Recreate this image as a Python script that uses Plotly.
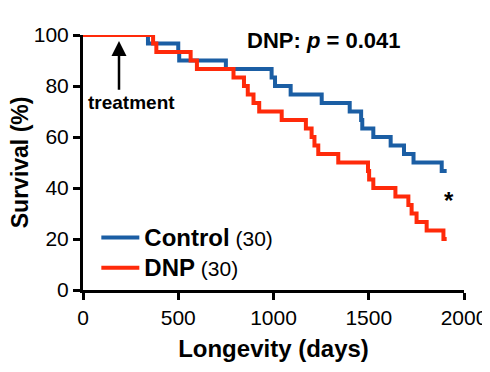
import plotly.graph_objects as go

# Kaplan-Meier survival data
control_days = [0, 341, 500, 505, 750, 990, 1008, 1090, 1253, 1400, 1460, 1466,
                1524, 1615, 1685, 1735, 1883, 1909]
control_surv = [100, 96.7, 93.3, 90, 86.7, 83.3, 80, 76.7, 73.3, 70, 66.7, 63.3,
                60, 56.7, 53.3, 50, 46.7, 46.7]

dnp_days = [0, 368, 385, 565, 598, 790, 845, 865, 895, 925, 1043, 1170, 1200,
            1215, 1235, 1340, 1496, 1502, 1524, 1640, 1708, 1725, 1751, 1804,
            1892, 1909]
dnp_surv = [100, 96.7, 93.3, 90, 86.7, 83.3, 80, 76.7, 73.3, 70, 66.7, 63.3, 60,
            56.7, 53.3, 50, 46.7, 43.3, 40, 36.7, 33.3, 30, 26.7, 23.3,
            20, 20]

x_ticks = [0, 500, 1000, 1500, 2000]
y_ticks = [0, 20, 40, 60, 80, 100]

BLUE = "#1B5EA4"
RED = "#FF2A0A"
FONT = "Liberation Sans, Arial, sans-serif"

fig = go.Figure()
fig.add_trace(go.Scatter(
    x=control_days, y=control_surv, mode="lines", line_shape="hv",
    line=dict(color=BLUE, width=4),
    name="<span style='font-size:24px'><b>Control</b></span> (30)",
    cliponaxis=False))
fig.add_trace(go.Scatter(
    x=dnp_days, y=dnp_surv, mode="lines", line_shape="hv",
    line=dict(color=RED, width=4),
    name="<span style='font-size:24px'><b>DNP</b></span> (30)",
    cliponaxis=False))

fig.add_annotation(x=1260, y=98, xref="x", yref="y",
                   text="<b>DNP: <i>p</i> = 0.041</b>", showarrow=False,
                   font=dict(size=22, color="black", family=FONT))
fig.add_annotation(x=189, y=97.6, ax=189, ay=77.9, xref="x", yref="y",
                   axref="x", ayref="y", text="", showarrow=True,
                   arrowhead=2, arrowsize=1.2, arrowwidth=2.5, arrowcolor="black")
fig.add_annotation(x=252, y=73.5, xref="x", yref="y", text="<b>treatment</b>",
                   showarrow=False, font=dict(size=19, color="black", family=FONT))
fig.add_annotation(x=1921, y=35, xref="x", yref="y", text="<b>*</b>",
                   showarrow=False, font=dict(size=24, color="black", family=FONT))
# y-axis title as annotation for exact placement
fig.add_annotation(x=-0.166, y=0.5, xref="paper", yref="paper",
                   xanchor="center", yanchor="middle",
                   text="<b>Survival (%)</b>", textangle=-90, showarrow=False,
                   font=dict(size=23, color="black", family=FONT))

axis_common = dict(showline=True, linecolor="black", linewidth=3,
                   ticks="outside", ticklen=7, tickwidth=3, tickcolor="black",
                   showgrid=False, zeroline=False, automargin=False,
                   tickfont=dict(size=21, color="black", family=FONT))

fig.update_xaxes(range=[0, 2000], tickvals=x_ticks,
                 title=dict(text="<b>Longevity (days)</b>",
                            font=dict(size=24, color="black", family=FONT),
                            standoff=12),
                 **axis_common)
fig.update_yaxes(range=[0, 100], tickvals=y_ticks, **axis_common)

fig.update_layout(
    width=490, height=372,
    margin=dict(l=75, r=34, t=27, b=90),
    plot_bgcolor="white", paper_bgcolor="white",
    font=dict(family=FONT, color="black"),
    showlegend=True,
    legend=dict(x=0.035, y=0.285, xanchor="left", yanchor="top",
                bgcolor="rgba(0,0,0,0)", borderwidth=0,
                font=dict(size=21, color="black", family=FONT),
                tracegroupgap=0, itemwidth=38),
)

fig.write_html("out.html")
